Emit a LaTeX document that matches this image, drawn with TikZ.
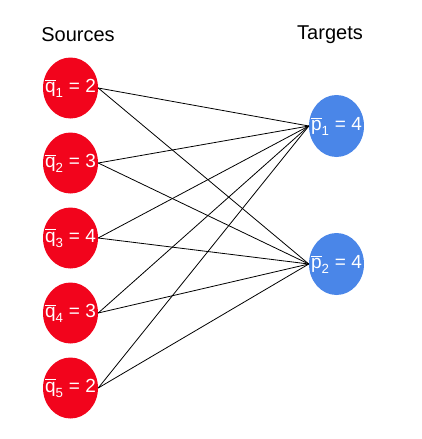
\documentclass[tikz,border=0pt]{standalone}
\usepackage{amsmath}
\usepackage{fontspec}
\setmainfont{Liberation Sans}
\usetikzlibrary{shapes.geometric}
\definecolor{srcred}{RGB}{242,4,28}
\definecolor{tgtblue}{RGB}{74,134,232}
% label that may run past its ellipse without widening it
\newcommand{\flatlabel}[3]{\makebox[0pt]{$\overline{\text{#1}}_{\text{#2}}$ = #3}}
\begin{document}
\begin{tikzpicture}[x=1pt,y=-1pt,
  source/.style={ellipse, fill=srcred, minimum width=55pt, minimum height=61pt, inner sep=0pt, text=white, font=\fontsize{19}{22}\selectfont},
  target/.style={ellipse, fill=tgtblue, minimum width=55pt, minimum height=62pt, inner sep=0pt, text=white, font=\fontsize{19}{22}\selectfont},
  heading/.style={font=\fontsize{20}{24}\selectfont},
  link/.style={draw=black, line width=0.8pt}]
\useasboundingbox (0,0) rectangle (422,439);
\node[heading] (hs) at (78,35) {Sources};
\node[heading] (ht) at (330,35) {Targets};
\node[source] (q1) at (70.5,88) {\flatlabel{q}{1}{2}};
\node[source] (q2) at (70.5,163) {\flatlabel{q}{2}{3}};
\node[source] (q3) at (70.5,238) {\flatlabel{q}{3}{4}};
\node[source] (q4) at (70.5,313) {\flatlabel{q}{4}{3}};
\node[source] (q5) at (70.5,388) {\flatlabel{q}{5}{2}};
\node[target] (p1) at (336.5,126) {\flatlabel{p}{1}{4}};
\node[target] (p2) at (336.5,264) {\flatlabel{p}{2}{4}};
\foreach \s in {q1,q2,q3,q4,q5}{
  \foreach \t in {p1,p2}{
    \draw[link] (\s.east) -- (\t.west);
  }
}
\end{tikzpicture}
\end{document}
